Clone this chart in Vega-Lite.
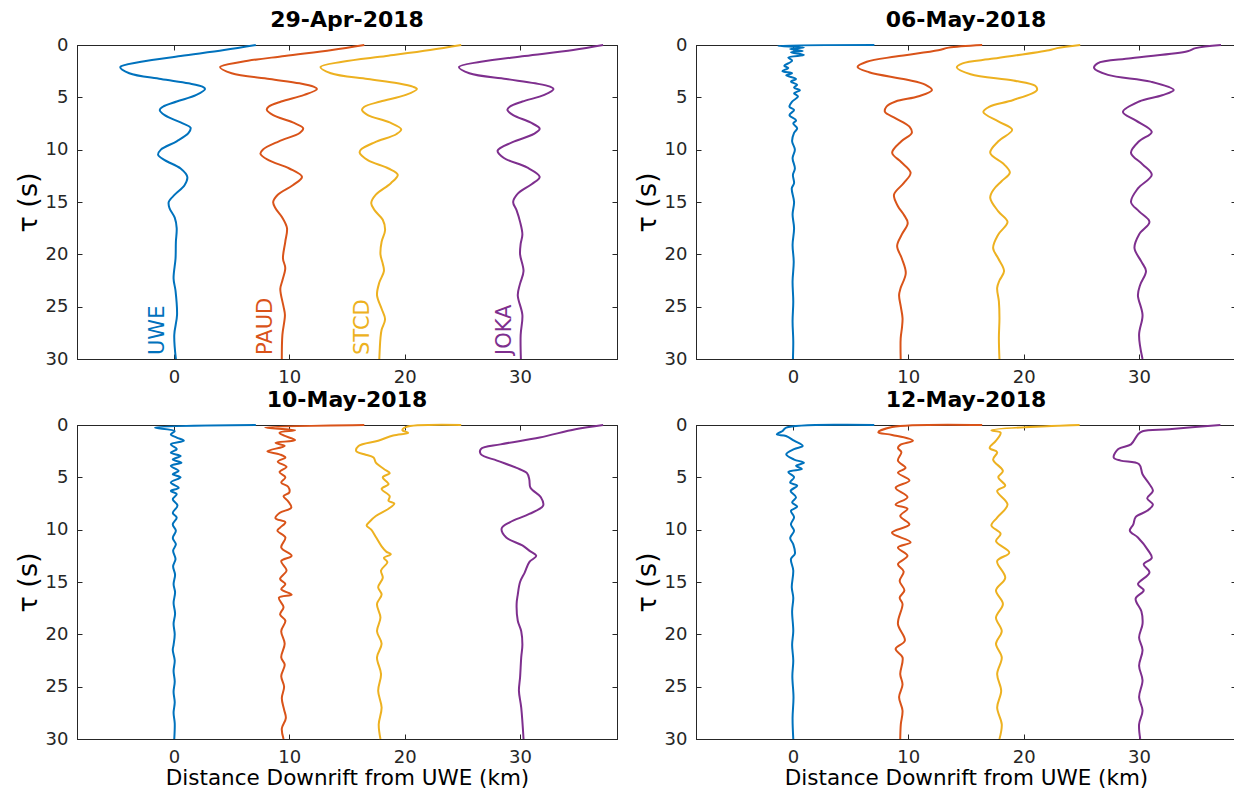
{
"$schema":"https://vega.github.io/schema/vega-lite/v6.json",
"background":"white",
"padding":{"left":13,"top":8,"right":0,"bottom":0},
"config":{
 "font":"DejaVu Sans",
 "view":{"stroke":"#262626","strokeWidth":1},
 "axis":{"grid":false,"domainColor":"#262626","tickColor":"#262626","labelColor":"#262626","labelFont":"DejaVu Sans","labelFontSize":18,"tickSize":-5,"labelPadding":14,"titleFont":"DejaVu Sans","titleFontWeight":"normal","titleColor":"#000000"},
 "axisX":{"titleFontSize":21.5,"titlePadding":1},
 "axisY":{"titleFontSize":27,"titlePadding":3},
 "title":{"font":"DejaVu Sans","fontSize":22,"fontWeight":"bold","color":"#000000","offset":4}
},
"datasets":{
"d1":[
{"s":"UWE","t":0,"x":7.1},{"s":"UWE","t":0.48,"x":4.35},{"s":"UWE","t":1.05,"x":0.58},{"s":"UWE","t":1.6,"x":-2.84},{"s":"UWE","t":2.1,"x":-4.65},{"s":"UWE","t":2.7,"x":-3.87},{"s":"UWE","t":3.25,"x":-1.13},{"s":"UWE","t":3.66,"x":1.27},{"s":"UWE","t":3.98,"x":2.47},{"s":"UWE","t":4.2,"x":2.7},{"s":"UWE","t":4.77,"x":1.95},{"s":"UWE","t":5.4,"x":0.24},{"s":"UWE","t":5.9,"x":-0.96},{"s":"UWE","t":6.2,"x":-1.23},{"s":"UWE","t":6.7,"x":-0.8},{"s":"UWE","t":7.4,"x":0.58},{"s":"UWE","t":7.9,"x":1.44},{"s":"UWE","t":8.4,"x":1.27},{"s":"UWE","t":9.2,"x":0.24},{"s":"UWE","t":10.0,"x":-1.13},{"s":"UWE","t":10.5,"x":-1.37},{"s":"UWE","t":11.0,"x":-0.8},{"s":"UWE","t":11.8,"x":0.58},{"s":"UWE","t":12.6,"x":1.16},{"s":"UWE","t":13.4,"x":0.92},{"s":"UWE","t":14.3,"x":0.07},{"s":"UWE","t":15.0,"x":-0.45},{"s":"UWE","t":15.6,"x":-0.38},{"s":"UWE","t":16.5,"x":0.07},{"s":"UWE","t":17.5,"x":0.24},{"s":"UWE","t":18.8,"x":0.17},{"s":"UWE","t":20.4,"x":0.14},{"s":"UWE","t":22.3,"x":-0.03},{"s":"UWE","t":23.5,"x":0.14},{"s":"UWE","t":25.8,"x":0.27},{"s":"UWE","t":27.7,"x":0.03},{"s":"UWE","t":30,"x":0.17},
{"s":"PAUD","t":0,"x":16.5},{"s":"PAUD","t":0.48,"x":13.7},{"s":"PAUD","t":1.05,"x":9.6},{"s":"PAUD","t":1.6,"x":5.9},{"s":"PAUD","t":2.1,"x":4.0},{"s":"PAUD","t":2.7,"x":5.0},{"s":"PAUD","t":3.25,"x":8.3},{"s":"PAUD","t":3.66,"x":10.9},{"s":"PAUD","t":3.98,"x":12.1},{"s":"PAUD","t":4.2,"x":12.4},{"s":"PAUD","t":4.77,"x":11.3},{"s":"PAUD","t":5.4,"x":9.3},{"s":"PAUD","t":5.9,"x":8.2},{"s":"PAUD","t":6.2,"x":8.05},{"s":"PAUD","t":6.7,"x":8.6},{"s":"PAUD","t":7.4,"x":10.3},{"s":"PAUD","t":7.95,"x":11.2},{"s":"PAUD","t":8.4,"x":10.9},{"s":"PAUD","t":9.2,"x":9.1},{"s":"PAUD","t":10.0,"x":7.7},{"s":"PAUD","t":10.4,"x":7.5},{"s":"PAUD","t":11.0,"x":8.2},{"s":"PAUD","t":11.8,"x":10.0},{"s":"PAUD","t":12.6,"x":11.1},{"s":"PAUD","t":13.4,"x":10.3},{"s":"PAUD","t":14.3,"x":9.0},{"s":"PAUD","t":15.0,"x":8.6},{"s":"PAUD","t":15.6,"x":8.8},{"s":"PAUD","t":16.5,"x":9.4},{"s":"PAUD","t":17.5,"x":9.8},{"s":"PAUD","t":18.8,"x":9.65},{"s":"PAUD","t":20.4,"x":9.45},{"s":"PAUD","t":21.3,"x":9.65},{"s":"PAUD","t":22.5,"x":9.4},{"s":"PAUD","t":23.3,"x":9.22},{"s":"PAUD","t":25.0,"x":9.5},{"s":"PAUD","t":25.8,"x":9.62},{"s":"PAUD","t":27.7,"x":9.4},{"s":"PAUD","t":30,"x":9.35},
{"s":"STCD","t":0,"x":24.9},{"s":"STCD","t":0.48,"x":22.2},{"s":"STCD","t":1.05,"x":18.4},{"s":"STCD","t":1.6,"x":14.6},{"s":"STCD","t":2.1,"x":12.7},{"s":"STCD","t":2.7,"x":13.6},{"s":"STCD","t":3.25,"x":16.8},{"s":"STCD","t":3.66,"x":19.4},{"s":"STCD","t":3.98,"x":20.7},{"s":"STCD","t":4.2,"x":21.06},{"s":"STCD","t":4.77,"x":20.1},{"s":"STCD","t":5.4,"x":17.9},{"s":"STCD","t":5.9,"x":16.5},{"s":"STCD","t":6.2,"x":16.3},{"s":"STCD","t":6.7,"x":16.8},{"s":"STCD","t":7.4,"x":18.7},{"s":"STCD","t":8.05,"x":19.7},{"s":"STCD","t":8.5,"x":19.3},{"s":"STCD","t":9.3,"x":17.4},{"s":"STCD","t":10.0,"x":16.2},{"s":"STCD","t":10.3,"x":16.1},{"s":"STCD","t":11.0,"x":16.8},{"s":"STCD","t":11.8,"x":18.6},{"s":"STCD","t":12.4,"x":19.4},{"s":"STCD","t":13.2,"x":18.8},{"s":"STCD","t":14.3,"x":17.5},{"s":"STCD","t":15.1,"x":17.1},{"s":"STCD","t":15.8,"x":17.4},{"s":"STCD","t":16.7,"x":18.1},{"s":"STCD","t":17.7,"x":18.3},{"s":"STCD","t":18.8,"x":18.0},{"s":"STCD","t":20.0,"x":17.9},{"s":"STCD","t":20.9,"x":18.1},{"s":"STCD","t":21.6,"x":18.2},{"s":"STCD","t":22.7,"x":17.8},{"s":"STCD","t":23.9,"x":17.6},{"s":"STCD","t":25.2,"x":18.0},{"s":"STCD","t":26.2,"x":18.3},{"s":"STCD","t":27.2,"x":18.0},{"s":"STCD","t":28,"x":17.9},{"s":"STCD","t":30,"x":17.8},
{"s":"JOKA","t":0,"x":37.2},{"s":"JOKA","t":0.48,"x":34.6},{"s":"JOKA","t":1.05,"x":30.4},{"s":"JOKA","t":1.6,"x":26.6},{"s":"JOKA","t":2.1,"x":24.7},{"s":"JOKA","t":2.7,"x":25.6},{"s":"JOKA","t":3.25,"x":28.8},{"s":"JOKA","t":3.66,"x":31.3},{"s":"JOKA","t":3.98,"x":32.6},{"s":"JOKA","t":4.2,"x":32.9},{"s":"JOKA","t":4.77,"x":32.1},{"s":"JOKA","t":5.4,"x":30.2},{"s":"JOKA","t":5.9,"x":29.1},{"s":"JOKA","t":6.2,"x":28.9},{"s":"JOKA","t":6.7,"x":29.4},{"s":"JOKA","t":7.4,"x":30.9},{"s":"JOKA","t":8.0,"x":31.7},{"s":"JOKA","t":8.5,"x":31.2},{"s":"JOKA","t":9.3,"x":29.3},{"s":"JOKA","t":10.1,"x":28.05},{"s":"JOKA","t":10.8,"x":28.6},{"s":"JOKA","t":11.7,"x":30.6},{"s":"JOKA","t":12.6,"x":31.7},{"s":"JOKA","t":13.3,"x":31.0},{"s":"JOKA","t":14.2,"x":29.8},{"s":"JOKA","t":15.0,"x":29.4},{"s":"JOKA","t":15.8,"x":29.7},{"s":"JOKA","t":16.9,"x":30.0},{"s":"JOKA","t":18.1,"x":30.2},{"s":"JOKA","t":19.0,"x":30.05},{"s":"JOKA","t":20.0,"x":30.0},{"s":"JOKA","t":21.6,"x":30.3},{"s":"JOKA","t":22.8,"x":30.0},{"s":"JOKA","t":23.9,"x":29.8},{"s":"JOKA","t":25.8,"x":30.2},{"s":"JOKA","t":27.7,"x":30.05},{"s":"JOKA","t":30,"x":30.07}
],
"d2":[
{"s":"UWE","t":0,"x":7.06},{"s":"UWE","t":0.08,"x":-1.3},{"s":"UWE","t":0.25,"x":0.95},{"s":"UWE","t":0.38,"x":-0.24},{"s":"UWE","t":0.57,"x":0.85},{"s":"UWE","t":0.7,"x":-0.17},{"s":"UWE","t":0.95,"x":0.95},{"s":"UWE","t":1.2,"x":-0.4},{"s":"UWE","t":1.5,"x":-0.07},{"s":"UWE","t":2.0,"x":-0.75},{"s":"UWE","t":2.2,"x":-0.4},{"s":"UWE","t":2.5,"x":-0.92},{"s":"UWE","t":2.7,"x":-0.07},{"s":"UWE","t":2.9,"x":-0.58},{"s":"UWE","t":3.25,"x":0.27},{"s":"UWE","t":3.5,"x":-0.17},{"s":"UWE","t":3.8,"x":0.37},{"s":"UWE","t":4.07,"x":0.1},{"s":"UWE","t":4.33,"x":0.61},{"s":"UWE","t":4.6,"x":0.1},{"s":"UWE","t":4.93,"x":0.44},{"s":"UWE","t":5.4,"x":-0.07},{"s":"UWE","t":5.9,"x":-0.3},{"s":"UWE","t":6.2,"x":0.1},{"s":"UWE","t":6.7,"x":-0.3},{"s":"UWE","t":7.2,"x":0.27},{"s":"UWE","t":7.5,"x":0.03},{"s":"UWE","t":7.95,"x":0.37},{"s":"UWE","t":8.4,"x":0.1},{"s":"UWE","t":9.2,"x":-0.07},{"s":"UWE","t":10.0,"x":0.17},{"s":"UWE","t":10.8,"x":-0.03},{"s":"UWE","t":11.8,"x":0.17},{"s":"UWE","t":12.4,"x":0},{"s":"UWE","t":13.2,"x":0.1},{"s":"UWE","t":13.7,"x":-0.1},{"s":"UWE","t":15,"x":0.1},{"s":"UWE","t":16.2,"x":-0.03},{"s":"UWE","t":17.5,"x":0.1},{"s":"UWE","t":19.1,"x":-0.03},{"s":"UWE","t":20.7,"x":0.07},{"s":"UWE","t":22.6,"x":-0.03},{"s":"UWE","t":24.5,"x":0.03},{"s":"UWE","t":26.4,"x":-0.03},{"s":"UWE","t":28.3,"x":0.03},{"s":"UWE","t":30,"x":0},
{"s":"PAUD","t":0,"x":16.4},{"s":"PAUD","t":0.25,"x":13.5},{"s":"PAUD","t":0.5,"x":12.6},{"s":"PAUD","t":1.1,"x":8.9},{"s":"PAUD","t":1.6,"x":6.4},{"s":"PAUD","t":2.1,"x":5.6},{"s":"PAUD","t":2.6,"x":6.6},{"s":"PAUD","t":3.3,"x":9.8},{"s":"PAUD","t":3.8,"x":11.5},{"s":"PAUD","t":4.3,"x":12.05},{"s":"PAUD","t":4.9,"x":10.9},{"s":"PAUD","t":5.4,"x":8.9},{"s":"PAUD","t":5.9,"x":8.1},{"s":"PAUD","t":6.4,"x":7.98},{"s":"PAUD","t":7.0,"x":8.9},{"s":"PAUD","t":7.8,"x":10.1},{"s":"PAUD","t":8.4,"x":10.3},{"s":"PAUD","t":9.2,"x":9.4},{"s":"PAUD","t":10.3,"x":8.6},{"s":"PAUD","t":11.2,"x":9.4},{"s":"PAUD","t":12.2,"x":10.2},{"s":"PAUD","t":13.2,"x":9.6},{"s":"PAUD","t":14.3,"x":8.76},{"s":"PAUD","t":15.4,"x":9.1},{"s":"PAUD","t":16.2,"x":9.6},{"s":"PAUD","t":17.0,"x":9.95},{"s":"PAUD","t":18.1,"x":9.44},{"s":"PAUD","t":19.2,"x":9.03},{"s":"PAUD","t":20.4,"x":9.44},{"s":"PAUD","t":21.8,"x":9.78},{"s":"PAUD","t":23.2,"x":9.34},{"s":"PAUD","t":23.9,"x":9.2},{"s":"PAUD","t":25.0,"x":9.35},{"s":"PAUD","t":26.1,"x":9.5},{"s":"PAUD","t":27.0,"x":9.45},{"s":"PAUD","t":28,"x":9.34},{"s":"PAUD","t":30,"x":9.34},
{"s":"STCD","t":0,"x":24.9},{"s":"STCD","t":0.3,"x":22.9},{"s":"STCD","t":0.5,"x":22.2},{"s":"STCD","t":1.3,"x":17.4},{"s":"STCD","t":1.75,"x":14.7},{"s":"STCD","t":2.13,"x":14.2},{"s":"STCD","t":2.8,"x":15.4},{"s":"STCD","t":3.4,"x":19.1},{"s":"STCD","t":3.9,"x":21.0},{"s":"STCD","t":4.3,"x":21.15},{"s":"STCD","t":5.25,"x":19.1},{"s":"STCD","t":5.9,"x":17.0},{"s":"STCD","t":6.4,"x":16.5},{"s":"STCD","t":7.3,"x":17.8},{"s":"STCD","t":8.1,"x":19.0},{"s":"STCD","t":9.2,"x":17.8},{"s":"STCD","t":10.3,"x":17.1},{"s":"STCD","t":11.4,"x":18.3},{"s":"STCD","t":12.2,"x":18.8},{"s":"STCD","t":13.0,"x":18.1},{"s":"STCD","t":13.8,"x":17.4},{"s":"STCD","t":14.6,"x":17.1},{"s":"STCD","t":15.9,"x":17.8},{"s":"STCD","t":16.9,"x":18.6},{"s":"STCD","t":18.1,"x":17.8},{"s":"STCD","t":19.4,"x":17.35},{"s":"STCD","t":20.4,"x":17.8},{"s":"STCD","t":21.6,"x":18.3},{"s":"STCD","t":22.5,"x":17.9},{"s":"STCD","t":23.2,"x":17.7},{"s":"STCD","t":24.5,"x":17.85},{"s":"STCD","t":26.1,"x":17.9},{"s":"STCD","t":28,"x":17.85},{"s":"STCD","t":30,"x":17.9},
{"s":"JOKA","t":0,"x":37.1},{"s":"JOKA","t":0.3,"x":34.9},{"s":"JOKA","t":0.6,"x":34.2},{"s":"JOKA","t":1.27,"x":29.3},{"s":"JOKA","t":1.75,"x":26.4},{"s":"JOKA","t":2.2,"x":26.1},{"s":"JOKA","t":2.85,"x":27.3},{"s":"JOKA","t":3.5,"x":31.0},{"s":"JOKA","t":4.3,"x":33.0},{"s":"JOKA","t":4.8,"x":32.0},{"s":"JOKA","t":5.4,"x":30.0},{"s":"JOKA","t":6.4,"x":28.6},{"s":"JOKA","t":7.2,"x":29.7},{"s":"JOKA","t":8.3,"x":31.1},{"s":"JOKA","t":9.2,"x":30.0},{"s":"JOKA","t":10.3,"x":29.3},{"s":"JOKA","t":11.4,"x":30.3},{"s":"JOKA","t":12.4,"x":31.1},{"s":"JOKA","t":13.7,"x":29.9},{"s":"JOKA","t":15.0,"x":29.3},{"s":"JOKA","t":15.9,"x":30.0},{"s":"JOKA","t":16.9,"x":30.9},{"s":"JOKA","t":18.1,"x":30.0},{"s":"JOKA","t":19.4,"x":29.6},{"s":"JOKA","t":20.7,"x":30.2},{"s":"JOKA","t":21.6,"x":30.6},{"s":"JOKA","t":22.9,"x":30.1},{"s":"JOKA","t":23.9,"x":29.9},{"s":"JOKA","t":25.8,"x":30.3},{"s":"JOKA","t":27.7,"x":30.0},{"s":"JOKA","t":30,"x":30.3}
],
"d3":[
{"s":"UWE","t":0,"x":7.1},{"s":"UWE","t":0.25,"x":-1.64},{"s":"UWE","t":0.57,"x":0.07},{"s":"UWE","t":0.9,"x":-0.27},{"s":"UWE","t":1.2,"x":0.24},{"s":"UWE","t":1.5,"x":0.86},{"s":"UWE","t":1.85,"x":-0.27},{"s":"UWE","t":2.3,"x":0.24},{"s":"UWE","t":2.65,"x":-0.27},{"s":"UWE","t":2.96,"x":0.58},{"s":"UWE","t":3.3,"x":-0.1},{"s":"UWE","t":3.6,"x":0.65},{"s":"UWE","t":3.9,"x":-0.27},{"s":"UWE","t":4.4,"x":0.41},{"s":"UWE","t":4.7,"x":-0.1},{"s":"UWE","t":5.0,"x":0.58},{"s":"UWE","t":5.5,"x":-0.27},{"s":"UWE","t":6.0,"x":0.41},{"s":"UWE","t":6.3,"x":-0.27},{"s":"UWE","t":6.6,"x":0.24},{"s":"UWE","t":7.1,"x":-0.1},{"s":"UWE","t":7.7,"x":0.31},{"s":"UWE","t":8.4,"x":-0.1},{"s":"UWE","t":8.85,"x":0.24},{"s":"UWE","t":9.5,"x":-0.1},{"s":"UWE","t":10.1,"x":0.17},{"s":"UWE","t":10.8,"x":-0.1},{"s":"UWE","t":11.4,"x":0.17},{"s":"UWE","t":12.0,"x":-0.07},{"s":"UWE","t":12.8,"x":0.14},{"s":"UWE","t":13.5,"x":-0.07},{"s":"UWE","t":14.3,"x":0.1},{"s":"UWE","t":15.2,"x":-0.03},{"s":"UWE","t":16.0,"x":0.1},{"s":"UWE","t":17.0,"x":-0.03},{"s":"UWE","t":18.0,"x":0.1},{"s":"UWE","t":19.0,"x":-0.03},{"s":"UWE","t":20.0,"x":0.07},{"s":"UWE","t":21.0,"x":-0.03},{"s":"UWE","t":21.5,"x":-0.1},{"s":"UWE","t":22.5,"x":0.07},{"s":"UWE","t":23.5,"x":-0.03},{"s":"UWE","t":24.5,"x":0.07},{"s":"UWE","t":25.5,"x":-0.03},{"s":"UWE","t":26.5,"x":0.07},{"s":"UWE","t":27.5,"x":-0.03},{"s":"UWE","t":28.5,"x":0.07},{"s":"UWE","t":30,"x":0.03},
{"s":"PAUD","t":0,"x":16.5},{"s":"PAUD","t":0.25,"x":7.9},{"s":"PAUD","t":0.5,"x":10.5},{"s":"PAUD","t":0.73,"x":9.15},{"s":"PAUD","t":1.0,"x":9.5},{"s":"PAUD","t":1.45,"x":10.5},{"s":"PAUD","t":1.7,"x":8.8},{"s":"PAUD","t":2.0,"x":9.6},{"s":"PAUD","t":2.5,"x":8.1},{"s":"PAUD","t":2.8,"x":9.15},{"s":"PAUD","t":3.1,"x":9.66},{"s":"PAUD","t":3.5,"x":9.0},{"s":"PAUD","t":4.0,"x":9.76},{"s":"PAUD","t":4.5,"x":9.15},{"s":"PAUD","t":5.0,"x":9.66},{"s":"PAUD","t":5.5,"x":9.3},{"s":"PAUD","t":5.9,"x":9.9},{"s":"PAUD","t":6.45,"x":10.0},{"s":"PAUD","t":6.8,"x":9.5},{"s":"PAUD","t":7.3,"x":9.9},{"s":"PAUD","t":7.9,"x":10.17},{"s":"PAUD","t":8.4,"x":9.15},{"s":"PAUD","t":8.9,"x":8.8},{"s":"PAUD","t":9.3,"x":9.66},{"s":"PAUD","t":9.8,"x":9.2},{"s":"PAUD","t":10.1,"x":8.97},{"s":"PAUD","t":10.75,"x":9.66},{"s":"PAUD","t":11.7,"x":9.3},{"s":"PAUD","t":12.5,"x":10.2},{"s":"PAUD","t":13.0,"x":9.3},{"s":"PAUD","t":13.9,"x":9.76},{"s":"PAUD","t":14.7,"x":9.2},{"s":"PAUD","t":15.2,"x":9.66},{"s":"PAUD","t":15.7,"x":9.3},{"s":"PAUD","t":16.2,"x":10.2},{"s":"PAUD","t":16.5,"x":9.1},{"s":"PAUD","t":17.4,"x":9.5},{"s":"PAUD","t":18.1,"x":9.2},{"s":"PAUD","t":18.7,"x":9.66},{"s":"PAUD","t":19.7,"x":9.3},{"s":"PAUD","t":20.9,"x":9.6},{"s":"PAUD","t":22.2,"x":9.3},{"s":"PAUD","t":22.9,"x":9.6},{"s":"PAUD","t":24,"x":9.3},{"s":"PAUD","t":25.0,"x":9.55},{"s":"PAUD","t":26.1,"x":9.35},{"s":"PAUD","t":27.2,"x":9.55},{"s":"PAUD","t":28.0,"x":9.7},{"s":"PAUD","t":29,"x":9.35},{"s":"PAUD","t":30,"x":9.5},
{"s":"STCD","t":0,"x":24.9},{"s":"STCD","t":0.2,"x":20.1},{"s":"STCD","t":0.5,"x":19.8},{"s":"STCD","t":0.75,"x":20.3},{"s":"STCD","t":1.0,"x":19.0},{"s":"STCD","t":1.5,"x":17.7},{"s":"STCD","t":2.0,"x":16.0},{"s":"STCD","t":2.5,"x":15.8},{"s":"STCD","t":2.8,"x":16.5},{"s":"STCD","t":3.1,"x":17.3},{"s":"STCD","t":3.6,"x":17.5},{"s":"STCD","t":4.2,"x":18.2},{"s":"STCD","t":4.6,"x":18.7},{"s":"STCD","t":5.0,"x":18.1},{"s":"STCD","t":5.65,"x":18.6},{"s":"STCD","t":6.1,"x":18.0},{"s":"STCD","t":6.8,"x":18.7},{"s":"STCD","t":7.25,"x":18.6},{"s":"STCD","t":7.5,"x":19.1},{"s":"STCD","t":8.0,"x":18.6},{"s":"STCD","t":8.7,"x":17.5},{"s":"STCD","t":9.2,"x":17.0},{"s":"STCD","t":9.6,"x":16.7},{"s":"STCD","t":10.0,"x":17.1},{"s":"STCD","t":10.7,"x":17.5},{"s":"STCD","t":11.6,"x":18.0},{"s":"STCD","t":12.1,"x":18.4},{"s":"STCD","t":12.35,"x":18.8},{"s":"STCD","t":12.7,"x":18.2},{"s":"STCD","t":13.1,"x":18.5},{"s":"STCD","t":13.9,"x":17.95},{"s":"STCD","t":14.6,"x":18.1},{"s":"STCD","t":15.5,"x":17.7},{"s":"STCD","t":16.2,"x":18.0},{"s":"STCD","t":17.1,"x":17.6},{"s":"STCD","t":18.4,"x":17.9},{"s":"STCD","t":19.7,"x":17.6},{"s":"STCD","t":20.9,"x":18.0},{"s":"STCD","t":22.2,"x":17.6},{"s":"STCD","t":23.8,"x":17.95},{"s":"STCD","t":25.4,"x":17.7},{"s":"STCD","t":27.0,"x":18.0},{"s":"STCD","t":28.6,"x":17.75},{"s":"STCD","t":30,"x":17.9},
{"s":"JOKA","t":0,"x":37.2},{"s":"JOKA","t":0.4,"x":34.8},{"s":"JOKA","t":1.2,"x":31.7},{"s":"JOKA","t":1.85,"x":28.3},{"s":"JOKA","t":2.3,"x":26.6},{"s":"JOKA","t":2.8,"x":26.6},{"s":"JOKA","t":3.4,"x":28.0},{"s":"JOKA","t":4.1,"x":29.7},{"s":"JOKA","t":4.6,"x":30.6},{"s":"JOKA","t":5.2,"x":30.8},{"s":"JOKA","t":6.0,"x":30.9},{"s":"JOKA","t":6.9,"x":31.8},{"s":"JOKA","t":7.7,"x":32.0},{"s":"JOKA","t":8.5,"x":30.8},{"s":"JOKA","t":9.3,"x":29.1},{"s":"JOKA","t":9.9,"x":28.4},{"s":"JOKA","t":10.75,"x":28.8},{"s":"JOKA","t":11.5,"x":30.2},{"s":"JOKA","t":12.0,"x":30.8},{"s":"JOKA","t":12.5,"x":31.4},{"s":"JOKA","t":13.1,"x":30.8},{"s":"JOKA","t":14.1,"x":30.4},{"s":"JOKA","t":15.0,"x":30.0},{"s":"JOKA","t":16.2,"x":29.8},{"s":"JOKA","t":17.1,"x":29.7},{"s":"JOKA","t":18.7,"x":29.8},{"s":"JOKA","t":19.7,"x":30.1},{"s":"JOKA","t":21.0,"x":30.2},{"s":"JOKA","t":22.2,"x":30.1},{"s":"JOKA","t":24.1,"x":30.0},{"s":"JOKA","t":25.4,"x":29.9},{"s":"JOKA","t":27.0,"x":30.1},{"s":"JOKA","t":30,"x":30.3}
],
"d4":[
{"s":"UWE","t":0,"x":7.05},{"s":"UWE","t":0.25,"x":-0.58},{"s":"UWE","t":0.57,"x":-0.9},{"s":"UWE","t":0.9,"x":-1.4},{"s":"UWE","t":1.05,"x":-0.6},{"s":"UWE","t":1.5,"x":0.1},{"s":"UWE","t":2.0,"x":0.85},{"s":"UWE","t":2.3,"x":0.1},{"s":"UWE","t":2.8,"x":-0.58},{"s":"UWE","t":3.3,"x":0.1},{"s":"UWE","t":3.6,"x":0.95},{"s":"UWE","t":3.9,"x":0.27},{"s":"UWE","t":4.2,"x":0.78},{"s":"UWE","t":4.5,"x":-0.4},{"s":"UWE","t":5.0,"x":0.1},{"s":"UWE","t":5.5,"x":-0.24},{"s":"UWE","t":5.8,"x":0.37},{"s":"UWE","t":6.3,"x":-0.2},{"s":"UWE","t":6.9,"x":0.27},{"s":"UWE","t":7.4,"x":-0.07},{"s":"UWE","t":7.8,"x":0.37},{"s":"UWE","t":8.2,"x":-0.17},{"s":"UWE","t":8.8,"x":0.1},{"s":"UWE","t":9.5,"x":-0.17},{"s":"UWE","t":10.1,"x":0.1},{"s":"UWE","t":10.8,"x":-0.24},{"s":"UWE","t":11.4,"x":0.03},{"s":"UWE","t":12.3,"x":0.17},{"s":"UWE","t":12.8,"x":-0.17},{"s":"UWE","t":13.9,"x":0.03},{"s":"UWE","t":15.5,"x":-0.1},{"s":"UWE","t":16.5,"x":0.03},{"s":"UWE","t":17.8,"x":-0.07},{"s":"UWE","t":19.7,"x":0.03},{"s":"UWE","t":21.0,"x":-0.07},{"s":"UWE","t":22.5,"x":0.03},{"s":"UWE","t":24.0,"x":-0.05},{"s":"UWE","t":26.0,"x":0.05},{"s":"UWE","t":28,"x":-0.03},{"s":"UWE","t":30,"x":0.03},
{"s":"PAUD","t":0,"x":16.4},{"s":"PAUD","t":0.2,"x":8.6},{"s":"PAUD","t":0.7,"x":7.4},{"s":"PAUD","t":0.95,"x":8.6},{"s":"PAUD","t":1.5,"x":10.4},{"s":"PAUD","t":1.9,"x":9.3},{"s":"PAUD","t":2.2,"x":9.1},{"s":"PAUD","t":2.6,"x":9.4},{"s":"PAUD","t":3.4,"x":9.1},{"s":"PAUD","t":4.1,"x":9.76},{"s":"PAUD","t":4.55,"x":9.1},{"s":"PAUD","t":5.3,"x":10.1},{"s":"PAUD","t":6.0,"x":8.9},{"s":"PAUD","t":6.9,"x":9.93},{"s":"PAUD","t":7.6,"x":8.9},{"s":"PAUD","t":8.0,"x":9.93},{"s":"PAUD","t":8.7,"x":9.3},{"s":"PAUD","t":9.5,"x":10.1},{"s":"PAUD","t":10.3,"x":8.58},{"s":"PAUD","t":11.2,"x":10.2},{"s":"PAUD","t":11.7,"x":9.1},{"s":"PAUD","t":12.5,"x":9.93},{"s":"PAUD","t":13.3,"x":9.1},{"s":"PAUD","t":14.0,"x":9.6},{"s":"PAUD","t":14.9,"x":9.25},{"s":"PAUD","t":15.8,"x":9.66},{"s":"PAUD","t":16.5,"x":9.25},{"s":"PAUD","t":17.1,"x":9.5},{"s":"PAUD","t":19.0,"x":9.1},{"s":"PAUD","t":20.6,"x":9.7},{"s":"PAUD","t":21.4,"x":8.9},{"s":"PAUD","t":22.2,"x":9.5},{"s":"PAUD","t":23.8,"x":9.3},{"s":"PAUD","t":24.8,"x":9.5},{"s":"PAUD","t":26.0,"x":9.2},{"s":"PAUD","t":27.3,"x":9.5},{"s":"PAUD","t":28.6,"x":9.35},{"s":"PAUD","t":30,"x":9.3},
{"s":"STCD","t":0,"x":24.85},{"s":"STCD","t":0.5,"x":17.2},{"s":"STCD","t":0.73,"x":18.0},{"s":"STCD","t":1.5,"x":17.6},{"s":"STCD","t":2.2,"x":17.05},{"s":"STCD","t":2.6,"x":17.7},{"s":"STCD","t":3.3,"x":17.35},{"s":"STCD","t":4.4,"x":18.2},{"s":"STCD","t":5.0,"x":17.8},{"s":"STCD","t":5.8,"x":18.4},{"s":"STCD","t":6.3,"x":17.7},{"s":"STCD","t":7.6,"x":18.6},{"s":"STCD","t":8.85,"x":17.7},{"s":"STCD","t":9.6,"x":17.2},{"s":"STCD","t":10.4,"x":18.0},{"s":"STCD","t":11.1,"x":17.6},{"s":"STCD","t":12.2,"x":18.75},{"s":"STCD","t":13.0,"x":17.7},{"s":"STCD","t":14.6,"x":18.4},{"s":"STCD","t":15.8,"x":17.6},{"s":"STCD","t":17.1,"x":18.2},{"s":"STCD","t":18.4,"x":17.6},{"s":"STCD","t":19.7,"x":18.1},{"s":"STCD","t":20.9,"x":17.6},{"s":"STCD","t":22.2,"x":18.1},{"s":"STCD","t":23.8,"x":17.7},{"s":"STCD","t":25.4,"x":18.05},{"s":"STCD","t":27.0,"x":17.7},{"s":"STCD","t":28.6,"x":18.1},{"s":"STCD","t":30,"x":17.9},
{"s":"JOKA","t":0,"x":37.05},{"s":"JOKA","t":0.4,"x":32.6},{"s":"JOKA","t":0.6,"x":30.3},{"s":"JOKA","t":0.9,"x":29.9},{"s":"JOKA","t":1.85,"x":29.3},{"s":"JOKA","t":2.3,"x":28.2},{"s":"JOKA","t":3.1,"x":27.8},{"s":"JOKA","t":3.4,"x":28.4},{"s":"JOKA","t":3.75,"x":30.0},{"s":"JOKA","t":4.7,"x":30.3},{"s":"JOKA","t":5.5,"x":30.8},{"s":"JOKA","t":6.3,"x":31.2},{"s":"JOKA","t":7.0,"x":30.7},{"s":"JOKA","t":7.6,"x":31.2},{"s":"JOKA","t":8.2,"x":30.7},{"s":"JOKA","t":8.8,"x":29.7},{"s":"JOKA","t":9.5,"x":29.5},{"s":"JOKA","t":10.1,"x":29.2},{"s":"JOKA","t":10.75,"x":29.9},{"s":"JOKA","t":12.0,"x":30.8},{"s":"JOKA","t":12.7,"x":31.1},{"s":"JOKA","t":13.3,"x":30.4},{"s":"JOKA","t":14.1,"x":30.9},{"s":"JOKA","t":15.2,"x":29.9},{"s":"JOKA","t":15.8,"x":30.4},{"s":"JOKA","t":16.6,"x":29.7},{"s":"JOKA","t":17.8,"x":30.2},{"s":"JOKA","t":19.0,"x":30.3},{"s":"JOKA","t":20.3,"x":30.0},{"s":"JOKA","t":21.5,"x":30.3},{"s":"JOKA","t":23.0,"x":30.0},{"s":"JOKA","t":24.4,"x":30.3},{"s":"JOKA","t":26.0,"x":30.0},{"s":"JOKA","t":27.3,"x":30.3},{"s":"JOKA","t":28.6,"x":30.0},{"s":"JOKA","t":30,"x":30.1}
],
"lab":[{"s":"UWE","x":0,"t":30},{"s":"PAUD","x":9.35,"t":30},{"s":"STCD","x":17.8,"t":30},{"s":"JOKA","x":30.07,"t":30}]
},
"bounds":"flush",
"spacing":{"row":66,"column":79},
"columns":2,
"concat":[
  {"width":540,"height":314,"title":"29-Apr-2018","data":{"name":"d1"},
   "resolve":{"scale":{"x":"independent","y":"independent"}},
   "layer":[
    {"mark":{"type":"line","interpolate":"catmull-rom","strokeWidth":2},
     "encoding":{
      "x":{"field":"x","type":"quantitative","scale":{"domain":[-8.4,38.4],"nice":false,"zero":false},"axis":{"values":[0,10,20,30],"title":null}},
      "y":{"field":"t","type":"quantitative","scale":{"domain":[0,30],"reverse":true,"nice":false,"zero":false},"axis":{"values":[0,5,10,15,20,25,30],"title":"τ (s)"}},
      "color":{"field":"s","type":"nominal","scale":{"domain":["UWE","PAUD","STCD","JOKA"],"range":["#0072BD","#D95319","#EDB120","#7E2F8E"]},"legend":null},
      "order":{"field":"t","type":"quantitative"}}},
    {"mark":{"type":"line","opacity":0},
     "encoding":{
      "x":{"field":"x","type":"quantitative","scale":{"domain":[-8.4,38.4],"nice":false,"zero":false},"axis":{"orient":"top","values":[0,10,20,30],"labels":false,"title":null}},
      "y":{"field":"t","type":"quantitative","scale":{"domain":[0,30],"reverse":true,"nice":false,"zero":false},"axis":{"orient":"right","values":[0,5,10,15,20,25,30],"labels":false,"title":null}}}},
    {"data":{"name":"lab"},"mark":{"type":"text","angle":270,"align":"left","baseline":"middle","fontSize":21,"font":"DejaVu Sans","dx":4,"dy":-16},
     "encoding":{
      "x":{"field":"x","type":"quantitative","scale":{"domain":[-8.4,38.4],"nice":false,"zero":false},"axis":null},
      "y":{"field":"t","type":"quantitative","scale":{"domain":[0,30],"reverse":true,"nice":false,"zero":false},"axis":null},
      "text":{"field":"s"},
      "color":{"field":"s","type":"nominal","scale":{"domain":["UWE","PAUD","STCD","JOKA"],"range":["#0072BD","#D95319","#EDB120","#7E2F8E"]},"legend":null}}}
   ]},
  {"width":540,"height":314,"title":"06-May-2018","data":{"name":"d2"},
   "resolve":{"scale":{"x":"independent","y":"independent"}},
   "layer":[
    {"mark":{"type":"line","interpolate":"catmull-rom","strokeWidth":2},
     "encoding":{
      "x":{"field":"x","type":"quantitative","scale":{"domain":[-8.4,38.4],"nice":false,"zero":false},"axis":{"values":[0,10,20,30],"title":null}},
      "y":{"field":"t","type":"quantitative","scale":{"domain":[0,30],"reverse":true,"nice":false,"zero":false},"axis":{"values":[0,5,10,15,20,25,30],"title":"τ (s)"}},
      "color":{"field":"s","type":"nominal","scale":{"domain":["UWE","PAUD","STCD","JOKA"],"range":["#0072BD","#D95319","#EDB120","#7E2F8E"]},"legend":null},
      "order":{"field":"t","type":"quantitative"}}},
    {"mark":{"type":"line","opacity":0},
     "encoding":{
      "x":{"field":"x","type":"quantitative","scale":{"domain":[-8.4,38.4],"nice":false,"zero":false},"axis":{"orient":"top","values":[0,10,20,30],"labels":false,"title":null}},
      "y":{"field":"t","type":"quantitative","scale":{"domain":[0,30],"reverse":true,"nice":false,"zero":false},"axis":{"orient":"right","values":[0,5,10,15,20,25,30],"labels":false,"title":null}}}}
   ]},
  {"width":540,"height":314,"title":"10-May-2018","data":{"name":"d3"},
   "resolve":{"scale":{"x":"independent","y":"independent"}},
   "layer":[
    {"mark":{"type":"line","interpolate":"catmull-rom","strokeWidth":2},
     "encoding":{
      "x":{"field":"x","type":"quantitative","scale":{"domain":[-8.4,38.4],"nice":false,"zero":false},"axis":{"values":[0,10,20,30],"title":"Distance Downrift from UWE (km)"}},
      "y":{"field":"t","type":"quantitative","scale":{"domain":[0,30],"reverse":true,"nice":false,"zero":false},"axis":{"values":[0,5,10,15,20,25,30],"title":"τ (s)"}},
      "color":{"field":"s","type":"nominal","scale":{"domain":["UWE","PAUD","STCD","JOKA"],"range":["#0072BD","#D95319","#EDB120","#7E2F8E"]},"legend":null},
      "order":{"field":"t","type":"quantitative"}}},
    {"mark":{"type":"line","opacity":0},
     "encoding":{
      "x":{"field":"x","type":"quantitative","scale":{"domain":[-8.4,38.4],"nice":false,"zero":false},"axis":{"orient":"top","values":[0,10,20,30],"labels":false,"title":null}},
      "y":{"field":"t","type":"quantitative","scale":{"domain":[0,30],"reverse":true,"nice":false,"zero":false},"axis":{"orient":"right","values":[0,5,10,15,20,25,30],"labels":false,"title":null}}}}
   ]},
  {"width":540,"height":314,"title":"12-May-2018","data":{"name":"d4"},
   "resolve":{"scale":{"x":"independent","y":"independent"}},
   "layer":[
    {"mark":{"type":"line","interpolate":"catmull-rom","strokeWidth":2},
     "encoding":{
      "x":{"field":"x","type":"quantitative","scale":{"domain":[-8.4,38.4],"nice":false,"zero":false},"axis":{"values":[0,10,20,30],"title":"Distance Downrift from UWE (km)"}},
      "y":{"field":"t","type":"quantitative","scale":{"domain":[0,30],"reverse":true,"nice":false,"zero":false},"axis":{"values":[0,5,10,15,20,25,30],"title":"τ (s)"}},
      "color":{"field":"s","type":"nominal","scale":{"domain":["UWE","PAUD","STCD","JOKA"],"range":["#0072BD","#D95319","#EDB120","#7E2F8E"]},"legend":null},
      "order":{"field":"t","type":"quantitative"}}},
    {"mark":{"type":"line","opacity":0},
     "encoding":{
      "x":{"field":"x","type":"quantitative","scale":{"domain":[-8.4,38.4],"nice":false,"zero":false},"axis":{"orient":"top","values":[0,10,20,30],"labels":false,"title":null}},
      "y":{"field":"t","type":"quantitative","scale":{"domain":[0,30],"reverse":true,"nice":false,"zero":false},"axis":{"orient":"right","values":[0,5,10,15,20,25,30],"labels":false,"title":null}}}}
   ]}
]
}
